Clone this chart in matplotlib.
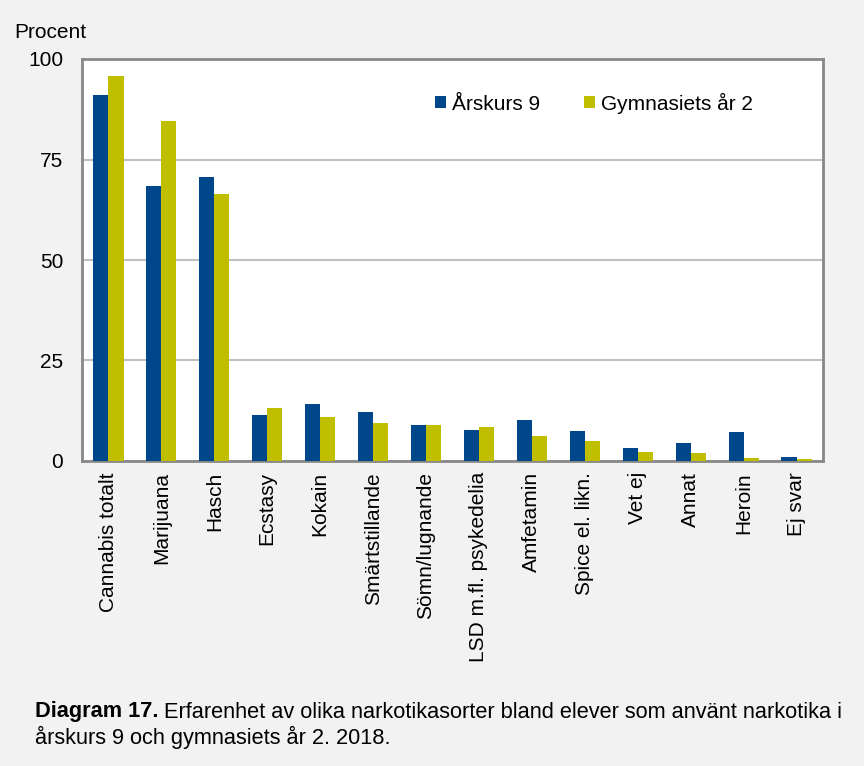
import numpy as np
import matplotlib.pyplot as plt

plt.rcParams['font.family'] = ['Liberation Sans', 'DejaVu Sans']

kategorier = ['Cannabis totalt', 'Marijuana', 'Hasch', 'Ecstasy', 'Kokain',
              'Smärtstillande', 'Sömn/lugnande', 'LSD m.fl. psykedelia',
              'Amfetamin', 'Spice el. likn.', 'Vet ej', 'Annat', 'Heroin', 'Ej svar']
arskurs9 = [91.0, 68.5, 70.6, 11.4, 14.2, 12.2, 9.0, 7.6, 10.1, 7.5, 3.2, 4.5, 7.1, 0.9]
gymn2 = [95.8, 84.6, 66.5, 13.2, 10.9, 9.5, 9.0, 8.5, 6.3, 5.0, 2.2, 2.0, 0.7, 0.4]

bg = '#f2f2f2'
blue = '#00468b'
yellow = '#bfbf00'
fs = 15

fig = plt.figure(figsize=(8.64, 7.66), dpi=100, facecolor=bg)
ax = fig.add_axes([82/864, 1 - 461/766, (823-82)/864, (461-59)/766])

x = np.arange(len(kategorier))
w = 0.285
ax.bar(x - w/2, arskurs9, w, color=blue, label='Årskurs 9', zorder=3)
ax.bar(x + w/2, gymn2, w, color=yellow, label='Gymnasiets år 2', zorder=3)

ax.set_xlim(-0.5, len(kategorier) - 0.5)
ax.set_ylim(0, 100)
ax.set_yticks([0, 25, 50, 75, 100])
ax.yaxis.grid(True, color='#c0c0c0', linewidth=1.5, zorder=0)
ax.set_xticks(x)
ax.set_xticklabels(kategorier, rotation=90, fontsize=fs)
ax.tick_params(axis='y', labelsize=fs, length=0, pad=13.5)
ax.tick_params(axis='x', length=0, pad=8)
for s in ax.spines.values():
    s.set_color('#888888')
    s.set_linewidth(2)

ax.legend(loc='center left', bbox_to_anchor=(435/864, 1 - 103/766),
          bbox_transform=fig.transFigure, ncol=2, frameon=False,
          fontsize=fs, handlelength=0.53, handleheight=0.53, handletextpad=0.3,
          columnspacing=2.1, borderpad=0, borderaxespad=0)

fig.text(14/864, 1 - 32/766, 'Procent', fontsize=fs, va='center', ha='left')

# bildtext med fet början
cfs = 15.7
t1 = fig.text(35/864, 1 - 712/766, 'Diagram 17.', fontsize=cfs, fontweight='bold',
              va='center', ha='left')
fig.canvas.draw()
bb = t1.get_window_extent()
fig.text((bb.x1 + 5)/864, 1 - 712/766,
         'Erfarenhet av olika narkotikasorter bland elever som använt narkotika i',
         fontsize=cfs, va='center', ha='left')
fig.text(35/864, 1 - 737/766, 'årskurs 9 och gymnasiets år 2. 2018.',
         fontsize=cfs, va='center', ha='left')

fig.savefig('out.png', dpi=100, facecolor=bg)
